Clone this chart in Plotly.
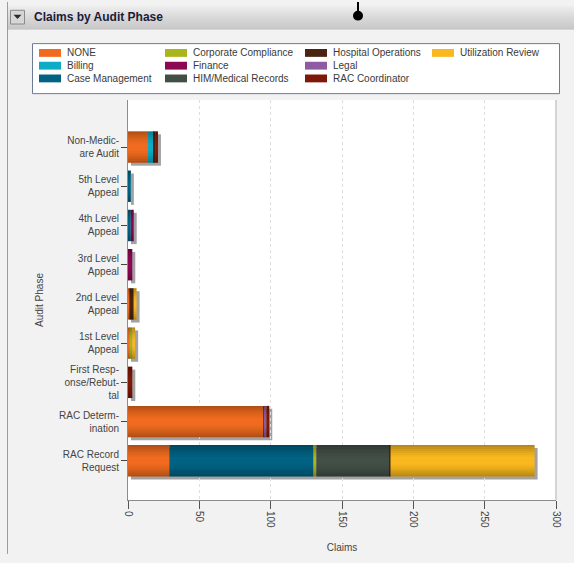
import plotly.graph_objects as go

# ---- data -------------------------------------------------------------
phases = [
    "Non-Medicare Audit", "5th Level Appeal", "4th Level Appeal",
    "3rd Level Appeal", "2nd Level Appeal", "1st Level Appeal",
    "First Response/Rebuttal", "RAC Determination", "RAC Record Request",
]
phase_labels = [
    "Non-Medic-<br>are Audit", "5th Level<br>Appeal", "4th Level<br>Appeal",
    "3rd Level<br>Appeal", "2nd Level<br>Appeal", "1st Level<br>Appeal",
    "First Resp-<br>onse/Rebut-<br>tal", "RAC Determ-<br>ination", "RAC Record<br>Request",
]

none_vals       = [14, 0, 0, 0, 1, 1, 0, 95, 29]
billing_vals    = [4, 0, 0, 0, 0, 0, 0, 0, 0]
case_mgmt_vals  = [0, 2, 2, 0, 0, 0, 0, 1, 101]
corp_comp_vals  = [0, 0, 0, 0, 0, 2, 0, 0, 2]
finance_vals    = [0, 0, 2, 3, 0, 0, 0, 0, 0]
him_vals        = [0, 0, 0, 0, 0, 0, 0, 0, 51]
hosp_ops_vals   = [1, 0, 0, 0, 3, 0, 0, 0, 1]
legal_vals      = [0, 0, 0, 0, 0, 0, 0, 1, 0]
rac_coord_vals  = [2, 0, 0, 0, 0, 0, 3, 2, 0]
util_rev_vals   = [0, 0, 0, 0, 2, 2, 0, 0, 101]

series_names = [
    "NONE", "Billing", "Case Management", "Corporate Compliance", "Finance",
    "HIM/Medical Records", "Hospital Operations", "Legal", "RAC Coordinator",
    "Utilization Review",
]
series_values = [
    none_vals, billing_vals, case_mgmt_vals, corp_comp_vals, finance_vals,
    him_vals, hosp_ops_vals, legal_vals, rac_coord_vals, util_rev_vals,
]
series_colors = [
    "#f06b1f", "#0cabc6", "#016283", "#a9b51a", "#8c0853",
    "#424f47", "#4a2410", "#8e5ba3", "#7e1808", "#f9b91e",
]

x_ticks = [0, 50, 100, 150, 200, 250, 300]

# ---- geometry ---------------------------------------------------------
W, H = 574, 563
L, R, T, B = 128, 18, 100, 55
PW, PH = W - L - R, H - T - B
X_MAX = 300
Y_TOP, Y_BOT = -1.2, 9.0  # category-axis range (reversed)
SHADOW_PX = 3
BAR_W = 0.8


def px(xp):
    return (xp - L) / PW


def py(yp):
    return 1 - (yp - T) / PH


FONT = "Liberation Sans, Arial, sans-serif"
fig = go.Figure()

n_cat = len(phases)
totals = [sum(v[i] for v in series_values) for i in range(n_cat)]

# drop shadow of each stacked bar (drawn on a slightly shifted hidden axis pair)
fig.add_trace(go.Bar(
    x=totals, y=phases, orientation="h", xaxis="x", yaxis="y",
    width=BAR_W, marker=dict(color="rgba(70,70,70,0.5)", line=dict(width=0)),
    hoverinfo="skip", showlegend=False,
))

# stacked bars: each series starts where the previous ones end
running = [0] * n_cat
for name, vals, col in zip(series_names, series_values, series_colors):
    fig.add_trace(go.Bar(
        x=vals, y=phases, base=list(running), name=name, orientation="h",
        xaxis="x2", yaxis="y2", width=BAR_W,
        marker=dict(color=col, line=dict(width=0)),
        showlegend=False,
    ))
    running = [r + v for r, v in zip(running, vals)]

# glossy shading: darker bands toward the top and bottom edge of every bar
band = 0.05
band_alpha = [0.26, 0.20, 0.15, 0.10, 0.06, 0.03]
for k, a in enumerate(band_alpha):
    for off in (-BAR_W / 2 + k * band, BAR_W / 2 - (k + 1) * band):
        fig.add_trace(go.Bar(
            x=totals, y=phases, base=0, orientation="h",
            xaxis="x2", yaxis="y2", offset=off, width=band,
            marker=dict(color="rgba(0,0,0,%.3f)" % a, line=dict(width=0)),
            hoverinfo="skip", showlegend=False,
        ))

shift_x = SHADOW_PX * X_MAX / PW
shift_y = SHADOW_PX * (Y_BOT - Y_TOP) / PH

shapes = []
annotations = []

# panel header with vertical gradient
top, bottom = 4, 28
c0, c1 = (236, 236, 236), (184, 184, 184)
n = bottom - top
for k in range(n):
    t = k / (n - 1)
    c = tuple(round(a + (b - a) * t) for a, b in zip(c0, c1))
    shapes.append(dict(
        type="rect", xref="paper", yref="paper", layer="below",
        x0=px(8), x1=px(W + 2), y0=py(top + k), y1=py(top + k + 1),
        fillcolor="rgb(%d,%d,%d)" % c, line=dict(width=0),
    ))
# panel left border
shapes.append(dict(type="line", xref="paper", yref="paper",
                   x0=px(7.5), x1=px(7.5), y0=py(0), y1=py(H),
                   line=dict(color="#9c9c9c", width=1)))
# collapse button
shapes.append(dict(type="rect", xref="paper", yref="paper",
                   x0=px(10.5), x1=px(24.5), y0=py(8.5), y1=py(22.5),
                   fillcolor="#d6d6d6", line=dict(color="#8a8a8a", width=1)))
shapes.append(dict(type="path", xref="paper", yref="paper",
                   path="M %f %f L %f %f L %f %f Z" % (px(13.5), py(13), px(21.5), py(13), px(17.5), py(17.5)),
                   fillcolor="#2a2a2a", line=dict(width=0)))
# splitter handle
shapes.append(dict(type="line", xref="paper", yref="paper",
                   x0=px(358), x1=px(358), y0=py(0), y1=py(12),
                   line=dict(color="#000000", width=2)))
shapes.append(dict(type="circle", xref="paper", yref="paper",
                   x0=px(353), x1=px(363), y0=py(9), y1=py(19),
                   fillcolor="#000000", line=dict(width=0)))
annotations.append(dict(
    text="<b>Claims by Audit Phase</b>", xref="paper", yref="paper",
    x=px(32), y=py(15.5), xanchor="left", yanchor="middle", showarrow=False,
    font=dict(family=FONT, size=12, color="#1b1b3a"),
))

# plot area background and right edge
shapes.append(dict(type="rect", xref="paper", yref="paper", layer="below",
                   x0=0, x1=1, y0=0, y1=1, fillcolor="#ffffff", line=dict(width=0)))
shapes.append(dict(type="line", xref="paper", yref="paper",
                   x0=px(556), x1=px(556), y0=0, y1=1,
                   line=dict(color="#d4d4d4", width=2)))

# legend box
shapes.append(dict(type="rect", xref="paper", yref="paper",
                   x0=px(32.5), x1=px(559.5), y0=py(42.5), y1=py(93.5),
                   fillcolor="#ffffff", line=dict(color="#6d7b98", width=1)))
col_x = [39, 165, 305, 432]
row_y = [52, 65, 78]
for i, (name, col) in enumerate(zip(series_names, series_colors)):
    cx, ry = col_x[i // 3], row_y[i % 3]
    shapes.append(dict(type="rect", xref="paper", yref="paper",
                       x0=px(cx), x1=px(cx + 22), y0=py(ry - 4), y1=py(ry + 4),
                       fillcolor=col, line=dict(width=0)))
    annotations.append(dict(
        text=name, xref="paper", yref="paper", x=px(cx + 26), y=py(ry),
        xanchor="left", yanchor="middle", showarrow=False,
        font=dict(family=FONT, size=10, color="#3a3a3a"),
    ))

fig.update_layout(
    width=W, height=H,
    margin=dict(l=L, r=R, t=T, b=B, pad=0),
    paper_bgcolor="#f2f2f2",
    plot_bgcolor="rgba(0,0,0,0)",
    barmode="overlay",
    showlegend=False,
    font=dict(family=FONT, size=10, color="#444444"),
    xaxis=dict(visible=False, range=[-shift_x, X_MAX - shift_x], domain=[0, 1], anchor="y"),
    yaxis=dict(visible=False, type="category", categoryorder="array", categoryarray=phases,
               range=[Y_BOT - shift_y, Y_TOP - shift_y], domain=[0, 1], anchor="x"),
    xaxis2=dict(
        domain=[0, 1], anchor="y2", range=[0, X_MAX],
        tickmode="array", tickvals=x_ticks, ticktext=[str(v) for v in x_ticks],
        ticks="outside", ticklen=8, tickcolor="#555555", tickangle=90,
        showline=True, linecolor="#8c8c8c", linewidth=1,
        showgrid=True, gridcolor="#dedede", griddash="3px,3px", zeroline=False,
        tickfont=dict(family=FONT, size=10, color="#444444"),
        title=dict(text="Claims", standoff=16, font=dict(family=FONT, size=10, color="#444444")),
    ),
    yaxis2=dict(
        domain=[0, 1], anchor="x2", type="category",
        categoryorder="array", categoryarray=phases,
        range=[Y_BOT, Y_TOP],
        tickmode="array", tickvals=phases, ticktext=phase_labels,
        ticks="outside", ticklen=6, tickcolor="#444444",
        showline=True, linecolor="#8c8c8c", linewidth=1,
        showgrid=False, zeroline=False,
        tickfont=dict(family=FONT, size=10, color="#444444"),
        title=dict(text="Audit Phase", standoff=13, font=dict(family=FONT, size=10, color="#444444")),
    ),
    shapes=shapes,
    annotations=annotations,
)

fig.write_html("out.html")
